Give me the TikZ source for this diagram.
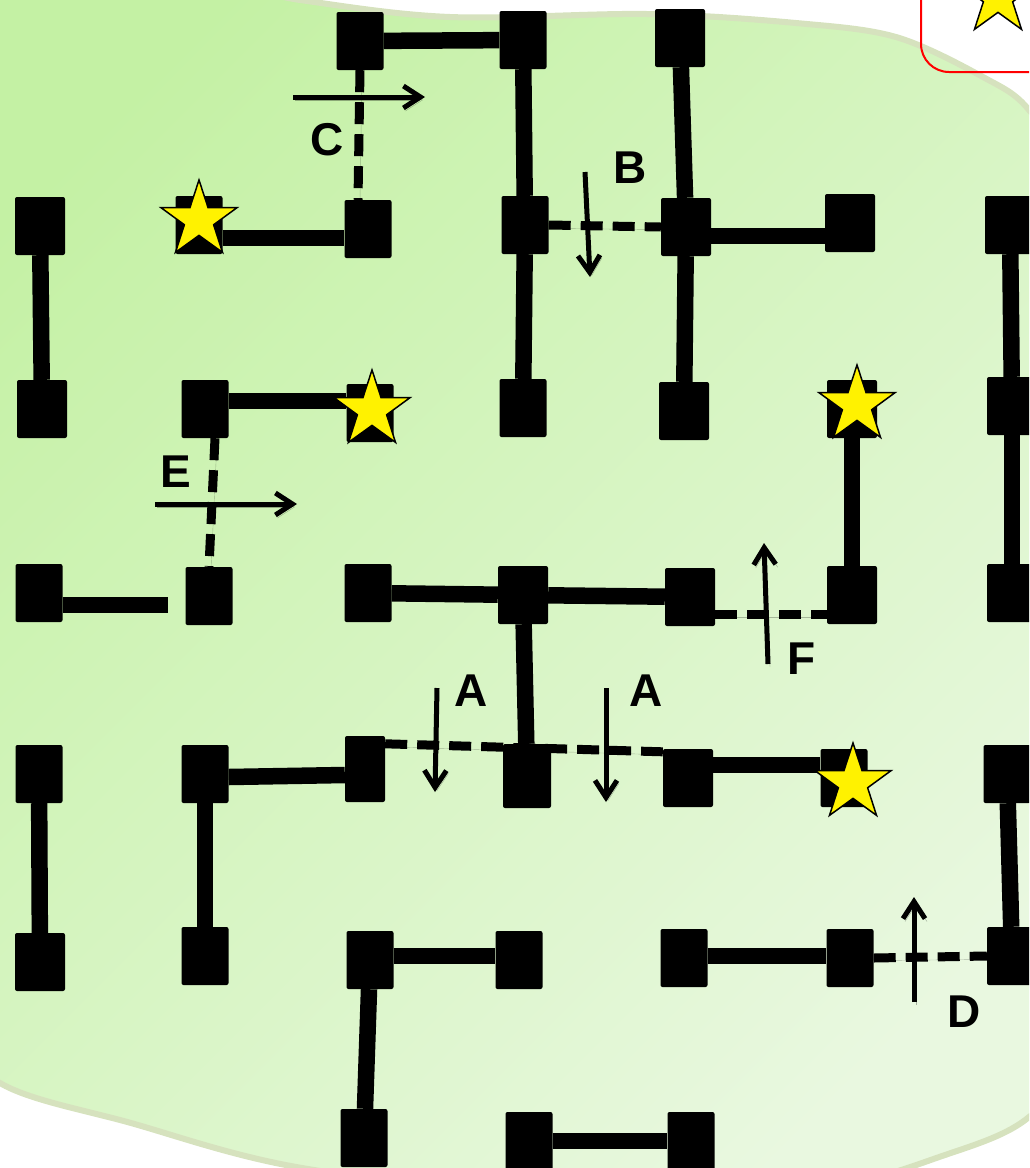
\documentclass[tikz,border=0pt]{standalone}
\usepackage{fontspec}
\setmainfont{Liberation Sans}
\usetikzlibrary{arrows.meta,shapes.geometric}
\definecolor{blobdark}{RGB}{196,241,164}
\definecolor{bloblight}{RGB}{233,248,224}
\definecolor{blobedge}{RGB}{214,226,190}

\begin{document}
\begin{tikzpicture}[x=1pt,y=-1pt,
	blk/.style={fill=black,rounded corners=2pt,minimum width=47pt,minimum height=58pt,inner sep=0pt},
	bar/.style={line width=16.5pt},
	gap/.style={line width=9pt,dash pattern=on 22pt off 10pt,preaction={draw,opacity=0.25,transform canvas={xshift=2pt,yshift=-3pt}}},
	cut/.style={line width=5pt,-{Straight Barb[length=17pt,width=22pt]},preaction={draw,opacity=0.3,transform canvas={xshift=2pt,yshift=-3pt}}},
	lbl/.style={inner sep=0pt,font=\fontsize{46}{46}\selectfont\bfseries},
	starry/.style={star,star points=5,star point ratio=2.6,minimum size=80pt,inner sep=0pt,fill=yellow,draw=black,line width=1.5pt}]
	\useasboundingbox (0,0) rectangle (1029,1168);
	\clip (0,0) rectangle (1029,1168);

	\shadedraw[draw=blobedge,line width=6pt,left color=blobdark,right color=bloblight,shading angle=45]
		plot[smooth cycle,tension=0.55] coordinates {(150,-25) (300,0) (450,17) (647,14) (796,23) (896,37) (983,77) (1029,110) (1075,190) (1100,600) (1082,1040) (1029,1117) (945,1155) (820,1188) (580,1200) (302,1168) (131,1123) (0,1083) (-60,1010) (-90,500) (-60,40)};
	\draw[red,line width=2pt,rounded corners=28pt] (921,-60) rectangle (1120,72);

	\node[blk] (a3) at (360,41) {};
	\node[blk] (a4) at (523,40) {};
	\node[blk,minimum width=50pt] (a5) at (680,38) {};

	\node[blk,minimum width=50pt] (b1) at (40,226) {};
	\node[blk] (b2) at (199,225) {};
	\node[blk] (b3) at (368,229) {};
	\node[blk] (b4) at (525,225) {};
	\node[blk,minimum width=50pt] (b5) at (686,227) {};
	\node[blk,minimum width=50pt] (b6) at (850,223) {};
	\node[blk,minimum width=50pt] (b7) at (1010,225) {};

	\node[blk,minimum width=50pt] (c1) at (42,409) {};
	\node[blk] (c2) at (205,409) {};
	\node[blk] (c3) at (370,413) {};
	\node[blk] (c4) at (523,408) {};
	\node[blk,minimum width=50pt] (c5) at (684,411) {};
	\node[blk,minimum width=50pt] (c6) at (852,409) {};
	\node[blk,minimum width=50pt] (c7) at (1012,406) {};

	\node[blk] (d1) at (39,593) {};
	\node[blk] (d2) at (209,596) {};
	\node[blk] (d3) at (368,593) {};
	\node[blk,minimum width=50pt] (d4) at (523,595) {};
	\node[blk,minimum width=50pt] (d5) at (690,597) {};
	\node[blk,minimum width=50pt] (d6) at (852,595) {};
	\node[blk,minimum width=50pt] (d7) at (1012,593) {};

	\node[blk] (e1) at (39,774) {};
	\node[blk] (e2) at (205,774) {};
	\node[blk,minimum width=40pt,minimum height=66pt] (e3) at (365,769) {};
	\node[blk,minimum width=48pt,minimum height=64pt] (e4) at (527,776) {};
	\node[blk,minimum width=50pt] (e5) at (688,778) {};
	\node[blk] (e6) at (844,778) {};
	\node[blk] (e7) at (1007,774) {};

	\node[blk,minimum width=50pt] (f1) at (40,962) {};
	\node[blk] (f2) at (205,956) {};
	\node[blk] (f3) at (370,960) {};
	\node[blk] (f4) at (519,960) {};
	\node[blk] (f5) at (684,958) {};
	\node[blk] (f6) at (850,958) {};
	\node[blk,minimum width=50pt] (f7) at (1012,956) {};

	\node[blk] (g3) at (364,1138) {};
	\node[blk] (g4) at (529,1141) {};
	\node[blk] (g5) at (691,1141) {};

	\draw[bar] (a3) -- (a4);
	\draw[bar] (a4) -- (b4);
	\draw[bar] (a5) -- (b5);
	\draw[bar] ([yshift=-13pt]b2.east) -- ([yshift=-9pt]b3.west);
	\draw[bar] ([yshift=-9pt]b5.east) -- ([yshift=-13pt]b6.west);
	\draw[bar] (b1) -- (c1);
	\draw[bar] (b4) -- (c4);
	\draw[bar] (b5) -- (c5);
	\draw[bar] (b7) -- (c7);
	\draw[bar] ([yshift=8pt]c2.east) -- ([yshift=12pt]c3.west);
	\draw[bar] (c6) -- (d6);
	\draw[bar] (c7) -- (d7);
	\coordinate (d1end) at (168,605);
	\draw[bar] ([yshift=-12pt]d1.east) -- (d1end);
	\draw[bar] (d3) -- (d4) -- (d5);
	\draw[bar] (d4) -- (e4);
	\draw[bar] ([yshift=-3pt]e2.east) -- ([yshift=-6pt]e3.west);
	\draw[bar] ([yshift=13pt]e5.east) -- ([yshift=13pt]e6.west);
	\draw[bar] (e1) -- (f1);
	\draw[bar] (e2) -- (f2);
	\draw[bar] (e7) -- (f7);
	\draw[bar] ([yshift=4pt]f3.east) -- ([yshift=4pt]f4.west);
	\draw[bar] ([yshift=2pt]f5.east) -- ([yshift=2pt]f6.west);
	\draw[bar] (f3) -- (g3);
	\draw[bar] (g4) -- (g5);

	\draw[gap] (a3.south) -- ([xshift=-10pt]b3.north);
	\draw[gap] (b4.east) -- (b5.west);
	\draw[gap] ([xshift=10pt]c2.south) -- (d2.north);
	\draw[gap] ([yshift=-17pt]d5.east) -- ([yshift=-19pt]d6.west);
	\draw[gap] ([yshift=-8pt]e3.north east) -- ([yshift=-3pt]e5.north west);
	\draw[gap] (f6.east) -- (f7.west);

	\node[starry] (s0) at (998,-3) {};
	\node[starry] (s1) at (199,220) {};
	\node[starry] (s2) at (372,410) {};
	\node[starry] (s3) at (857,405) {};
	\node[starry] (s4) at (853,783) {};

	\coordinate (cfrom) at (293,97);
	\coordinate (cto) at (425,97);
	\coordinate (bfrom) at (585,172);
	\coordinate (bto) at (590,277);
	\coordinate (efrom) at (155,504);
	\coordinate (eto) at (297,504);
	\coordinate (ffrom) at (768,664);
	\coordinate (fto) at (764,543);
	\coordinate (aafrom) at (437,688);
	\coordinate (aato) at (435,792);
	\coordinate (abfrom) at (606,688);
	\coordinate (abto) at (606,802);
	\coordinate (dfrom) at (914,1002);
	\coordinate (dto) at (914,897);
	\draw[cut] (cfrom) -- (cto);
	\draw[cut] (bfrom) -- (bto);
	\draw[cut] (efrom) -- (eto);
	\draw[cut] (ffrom) -- (fto);
	\draw[cut] (aafrom) -- (aato);
	\draw[cut] (abfrom) -- (abto);
	\draw[cut] (dfrom) -- (dto);

	\node[lbl] (labc) at (327,140) {C};
	\node[lbl] (labb) at (630,168) {B};
	\node[lbl] (labe) at (176,472) {E};
	\node[lbl] (labf) at (802,659) {F};
	\node[lbl] (laba) at (471,691) {A};
	\node[lbl] (labaa) at (646,691) {A};
	\node[lbl] (labd) at (964,1012) {D};
\end{tikzpicture}
\end{document}
